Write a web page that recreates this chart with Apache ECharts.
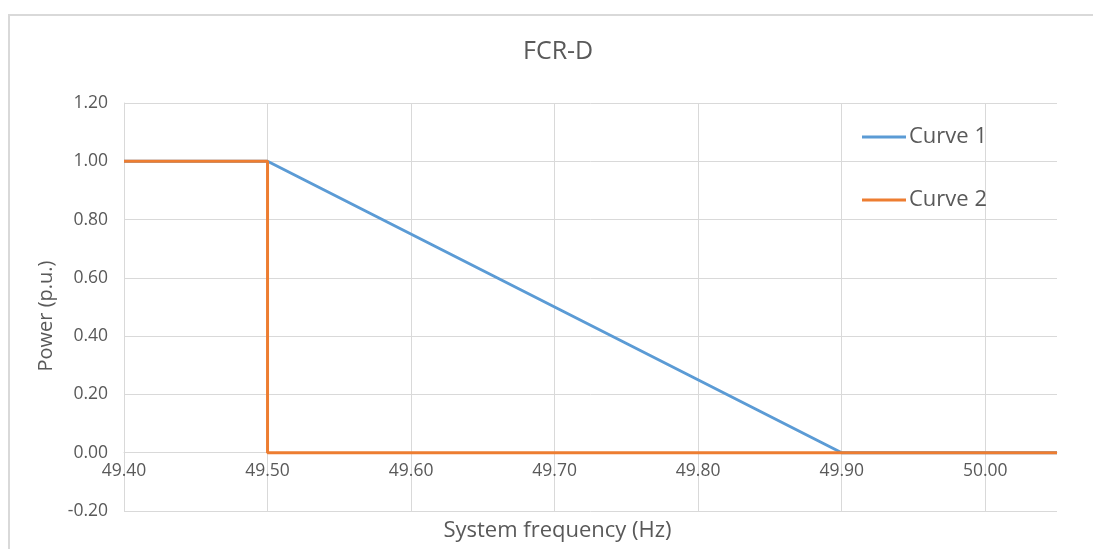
<!DOCTYPE html>
<html>
<head>
<meta charset="utf-8">
<script src="https://cdn.jsdelivr.net/npm/echarts@6/dist/echarts.min.js"></script>
<style>
  html, body { margin: 0; padding: 0; background: #fff; }
  #chart { width: 1093px; height: 549px; }
</style>
</head>
<body>
<div id="chart"></div>
<script>
// Frequency response curves for FCR-D
const seriesNames = ['Curve 1', 'Curve 2'];
const curve1Freq = [49.40, 49.50, 49.90, 50.05];
const curve1Power = [1.00, 1.00, 0.00, 0.00];
const curve2Freq = [49.40, 49.50, 49.50, 50.05];
const curve2Power = [1.00, 1.00, 0.00, 0.00];

const pairs = (xs, ys) => xs.map((x, i) => [x, ys[i]]);
const FONT = '"Open Sans", Lato, sans-serif';
const TEXT = '#595959';
const GRID = '#d9d9d9';

const GRID_TOP = 103, GRID_BOTTOM = 38, Y_MIN = -0.2, Y_MAX = 1.2;
// frequency axis sits on the zero-power line
const plotHeight = 549 - GRID_TOP - GRID_BOTTOM;
const zeroOffset = -plotHeight * (0 - Y_MIN) / (Y_MAX - Y_MIN);

const chart = echarts.init(document.getElementById('chart'));
chart.setOption({
  animation: false,
  backgroundColor: '#ffffff',
  graphic: [{
    type: 'rect',
    shape: { x: 9, y: 15, width: 1100, height: 600 },
    style: { fill: 'none', stroke: GRID, lineWidth: 2 },
    silent: true
  }],
  title: {
    text: 'FCR-D',
    left: 518,
    top: 34,
    textStyle: { fontFamily: FONT, fontSize: 25, fontWeight: 'normal', color: TEXT }
  },
  legend: {
    orient: 'vertical',
    left: 862,
    top: 126,
    padding: 0,
    itemGap: 41,
    itemWidth: 44,
    itemHeight: 3,
    icon: 'rect',
    data: seriesNames,
    textStyle: { fontFamily: FONT, fontSize: 22, color: TEXT, padding: [0, 0, 0, -2] }
  },
  grid: { left: 124, right: 36, top: GRID_TOP, bottom: GRID_BOTTOM, containLabel: false, outerBoundsMode: 'none' },
  xAxis: {
    type: 'value',
    position: 'bottom',
    offset: zeroOffset,
    min: 49.4,
    max: 50.05,
    interval: 0.1,
    name: 'System frequency (Hz)',
    nameLocation: 'middle',
    nameGap: 67,
    nameTextStyle: { fontFamily: FONT, fontSize: 22, color: TEXT, padding: [0, 66, 0, 0] },
    axisLine: { show: true, onZero: false, lineStyle: { color: GRID } },
    axisTick: { show: false },
    axisLabel: {
      showMaxLabel: false,
      margin: 9,
      fontFamily: FONT, fontSize: 17.5, color: TEXT,
      formatter: v => Math.abs(v - 50.05) < 1e-6 ? '' : v.toFixed(2)
    },
    splitLine: { show: true, showMaxLine: false, lineStyle: { color: GRID, width: 1 } }
  },
  yAxis: {
    type: 'value',
    min: Y_MIN,
    max: Y_MAX,
    interval: 0.2,
    name: 'Power (p.u.)',
    nameLocation: 'middle',
    nameGap: 68,
    nameRotate: 90,
    nameTextStyle: { fontFamily: FONT, fontSize: 20, color: TEXT, padding: [0, 18, 0, 0] },
    axisLine: { show: true, onZero: false, lineStyle: { color: GRID } },
    axisTick: { show: false },
    axisLabel: {
      margin: 16,
      fontFamily: FONT, fontSize: 17.5, color: TEXT,
      formatter: v => v.toFixed(2)
    },
    splitLine: { show: true, lineStyle: { color: GRID, width: 1 } }
  },
  series: [
    {
      name: seriesNames[0],
      type: 'line',
      data: pairs(curve1Freq, curve1Power),
      symbol: 'none',
      lineStyle: { color: '#5B9BD5', width: 3 },
      itemStyle: { color: '#5B9BD5' },
      z: 2
    },
    {
      name: seriesNames[1],
      type: 'line',
      data: pairs(curve2Freq, curve2Power),
      symbol: 'none',
      lineStyle: { color: '#ED7D31', width: 3 },
      itemStyle: { color: '#ED7D31' },
      z: 3
    }
  ]
});
</script>
</body>
</html>
